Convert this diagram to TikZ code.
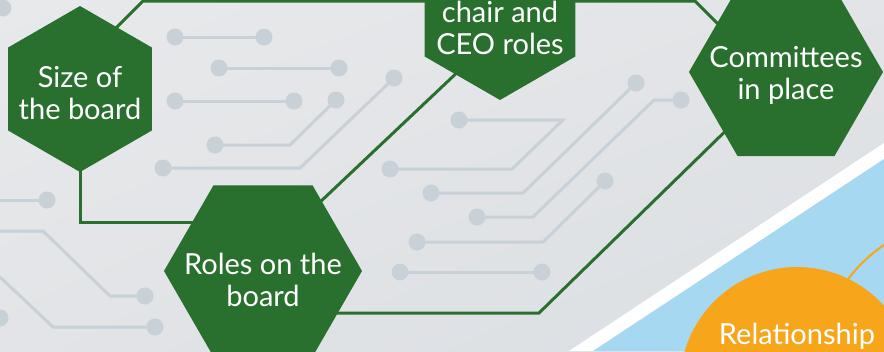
\documentclass[tikz,border=0pt]{standalone}
\usepackage{fontspec}
\setmainfont{Lato}
\usetikzlibrary{shapes.geometric,backgrounds,shadings}
\definecolor{boardgreen}{RGB}{41,112,47}
\definecolor{tracegray}{RGB}{200,208,216}
\definecolor{skyblue}{RGB}{166,216,242}
\definecolor{sunorange}{RGB}{247,166,28}
\definecolor{bgtop}{RGB}{232,233,235}
\definecolor{bgmid}{RGB}{226,228,231}
\definecolor{bgbottom}{RGB}{218,222,226}
\tikzset{
  hexnode/.style={regular polygon, regular polygon sides=6, fill=boardgreen, inner sep=0pt},
  hextext/.style={text=white, align=center, font=\fontsize{29}{32}\selectfont},
  wire/.style={draw=boardgreen, line width=3pt},
  trace/.style={draw=tracegray, line width=3pt},
}
\begin{document}
\begin{tikzpicture}[x=1pt, y=-1pt]
\useasboundingbox (0,0) rectangle (884,351);
% \tikzstyle{every node}=[hexnode]
\node[hexnode, regular polygon rotate=30, minimum size=166pt, label={[hextext, yshift=-4pt]center:Size of\\the board}] (size) at (80,89) {};
\node[hexnode, regular polygon rotate=30, minimum size=174pt, label={[hextext, yshift=-15pt]center:chair and\\CEO roles}] (chair) at (500,13) {};
\node[hexnode, minimum size=194pt, label={[hextext, yshift=-3pt]center:Committees\\in place}] (committees) at (786,72) {};
\node[hexnode, minimum size=198pt, label={[hextext, yshift=-9pt]center:Roles on the\\board}] (roles) at (263,271) {};
\node[circle, fill=sunorange, minimum size=234pt, inner sep=0pt, label={[hextext, yshift=48pt]center:Relationship}] (rel) at (797,384) {};
\draw[draw=sunorange, line width=2pt] (rel.64) to[bend left=8] ++(36,-34);
\begin{scope}[on background layer]
\shade[upper left=bgtop, upper right=bgmid, lower left=bgmid, lower right=bgbottom] (0,0) rectangle (884,351);
\fill[white] (569,351) -- (884,143) -- (884,351) -- cycle;
\fill[skyblue] (593,351) -- (884,159) -- (884,351) -- cycle;
% circuit traces
\draw[trace] (175,37) -- (264,37);
\draw[trace] (219,68) -- (339,68);
\draw[trace] (175,101) -- (294,101);
\draw[trace] (215,145) -- (290,145) -- (336,100);
\draw[trace] (163,168) -- (300,168) -- (394,78);
\draw[trace] (0,200) -- (47,200);
\draw[trace] (0,231) -- (43,231) -- (110,296) -- (145,296);
\draw[trace] (0,277) -- (53,327) -- (155,327);
\draw[trace] (459,120) -- (563,120) -- (512,169) -- (390,169);
\draw[trace] (431,193) -- (523,193) -- (636,83);
\draw[trace] (477,217) -- (533,217) -- (654,100) -- (681,100);
\draw[trace] (417,242) -- (543,242) -- (605,181);
\draw[trace] (400,272) -- (542,272);
\foreach \p in {(3,8),(175,37),(264,37),(219,68),(339,68),(175,101),(294,101),(215,145),(336,100),
  (163,168),(394,78),(47,200),(145,296),(155,327),(0,318),(459,120),(390,169),(431,193),(636,83),
  (477,217),(681,100),(417,242),(605,181),(400,272),(542,272)}
  \fill[tracegray] \p circle (8.5pt);
% board links
\draw[wire] ([yshift=25pt]size.center) -- ++(63,-63) -- ++(552,0) -- ([xshift=-20pt]committees.center);
\draw[wire] (size.center) |- ([yshift=49pt]roles.center);
\draw[wire] ([yshift=15pt]roles.center) -- ([yshift=-19pt]chair.center);
\draw[wire] ([yshift=-42pt]roles.center) -- ++(276,0) -- (committees.center);
\end{scope}
\end{tikzpicture}
\end{document}
